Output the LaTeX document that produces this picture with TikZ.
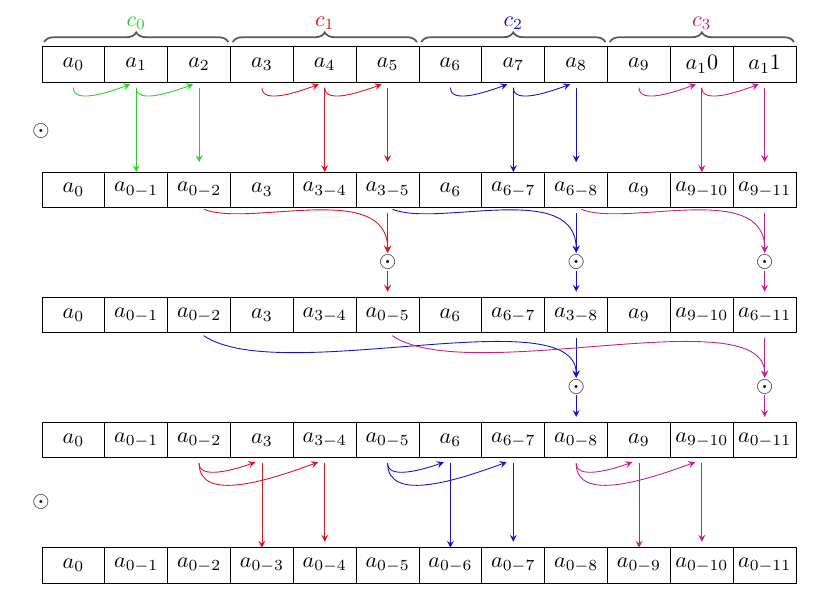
\documentclass[tikz,border=0pt]{standalone}
\usepackage{amssymb}
\usepackage{amsmath}
\usepackage{tikz}
\usetikzlibrary{arrows, decorations.pathreplacing}
\definecolor{grpA}{RGB}{40,210,40}
\definecolor{grpB}{RGB}{220,20,30}
\definecolor{grpC}{RGB}{20,20,200}
\definecolor{grpD}{RGB}{200,30,140}
\tikzset{
    >=stealth, % arrow heads
    cell/.style={draw, minimum width=1cm, minimum height=0.56cm, inner sep=0pt, outer sep=0pt}, % one box of the array
    op/.style={inner sep=0.5pt}, % the odot between two rows
    grp/.style={decorate, decoration={brace, amplitude=4.4pt}, thick, black!65},
    link/.style={->, shorten <=2.5pt},
    pass/.style={->, shorten >=2.5pt},
}
\begin{document}
\begin{tikzpicture}
\useasboundingbox (0,0) rectangle (13.35,-9.486);
% the five rows
\foreach \t [count=\i from 0] in {a_0,a_1,a_2,a_3,a_4,a_5,a_6,a_7,a_8,a_9,a_10,a_11}
    \node[cell] (r1c\i) at (1.168+\i,-1.027) {$\t$};
\foreach \t [count=\i from 0] in {a_0,a_{0-1},a_{0-2},a_3,a_{3-4},a_{3-5},a_6,a_{6-7},a_{6-8},a_9,a_{9-10},a_{9-11}}
    \node[cell] (r2c\i) at (1.168+\i,-3.019) {$\t$};
\foreach \t [count=\i from 0] in {a_0,a_{0-1},a_{0-2},a_3,a_{3-4},a_{0-5},a_6,a_{6-7},a_{3-8},a_9,a_{9-10},a_{6-11}}
    \node[cell] (r3c\i) at (1.168+\i,-5.011) {$\t$};
\foreach \t [count=\i from 0] in {a_0,a_{0-1},a_{0-2},a_3,a_{3-4},a_{0-5},a_6,a_{6-7},a_{0-8},a_9,a_{9-10},a_{0-11}}
    \node[cell] (r4c\i) at (1.168+\i,-7.004) {$\t$};
\foreach \t [count=\i from 0] in {a_0,a_{0-1},a_{0-2},a_{0-3},a_{0-4},a_{0-5},a_{0-6},a_{0-7},a_{0-8},a_{0-9},a_{0-10},a_{0-11}}
    \node[cell] (r5c\i) at (1.168+\i,-8.996) {$\t$};

% groups
\foreach \g/\c in {0/grpA,1/grpB,2/grpC,3/grpD}{
    \pgfmathtruncatemacro\a{3*\g}
    \pgfmathtruncatemacro\b{3*\g+2}
    \draw[grp] ([xshift=1pt,yshift=2.2pt]r1c\a.north west) -- ([xshift=-1pt,yshift=2.2pt]r1c\b.north east)
        node[midway, yshift=8.6pt, text=\c] {$c_\g$};
}

% step 1
\node (m1) at (0.65,-2.08) {$\odot$};
\foreach \g/\c in {0/grpA,1/grpB,2/grpC,3/grpD}{
    \pgfmathtruncatemacro\a{3*\g}
    \pgfmathtruncatemacro\b{3*\g+1}
    \pgfmathtruncatemacro\d{3*\g+2}
    \draw[link,\c] (r1c\a.south) to[out=-90,in=200] ([xshift=-2.7pt,yshift=-1pt]r1c\b.south);
    \draw[link,\c] (r1c\b.south) to[out=-90,in=200] ([xshift=-2.7pt,yshift=-1pt]r1c\d.south);
    \draw[link,\c] (r1c\b) -- (r2c\b);
    \draw[link,\c, shorten >=4.5pt] (r1c\d) -- (r2c\d);
}

% step 2
\foreach \a/\b/\c in {2/5/grpB,5/8/grpC,8/11/grpD}{
    \node[op] (o\b) at ([yshift=-1.145cm]r2c\b) {$\odot$};
    \draw[link,\c] (r2c\a.south) .. controls +(0.8,-0.32) and +(0,1.16) .. (o\b.north);
    \draw[link,\c] (r2c\b) -- (o\b);
    \draw[pass,\c] (o\b) -- (r3c\b);
}

% step 3
\foreach \a/\b/\c in {2/8/grpC,5/11/grpD}{
    \node[op] (p\b) at ([yshift=-1.14cm]r3c\b) {$\odot$};
    \draw[link,\c] (r3c\a.south) .. controls +(1.27,-0.87) and +(0,1.27) .. (p\b.north);
    \draw[link,\c] (r3c\b) -- (p\b);
    \draw[pass,\c] (p\b) -- (r4c\b);
}

% step 4
\node (m4) at (0.65,-7.985) {$\odot$};
\foreach \a/\c in {2/grpB,5/grpC,8/grpD}{
    \pgfmathtruncatemacro\b{\a+1}
    \pgfmathtruncatemacro\d{\a+2}
    \draw[link,\c] (r4c\a.south) to[out=-90,in=200] ([xshift=-3pt,yshift=-2pt]r4c\b.south);
    \draw[link,\c] (r4c\a.south) to[out=-90,in=200] ([xshift=-3pt,yshift=-2pt]r4c\d.south);
    \draw[link,\c] (r4c\b) -- (r5c\b);
    \draw[link,\c, shorten >=2.7pt] (r4c\d) -- (r5c\d);
}
\end{tikzpicture}
\end{document}
